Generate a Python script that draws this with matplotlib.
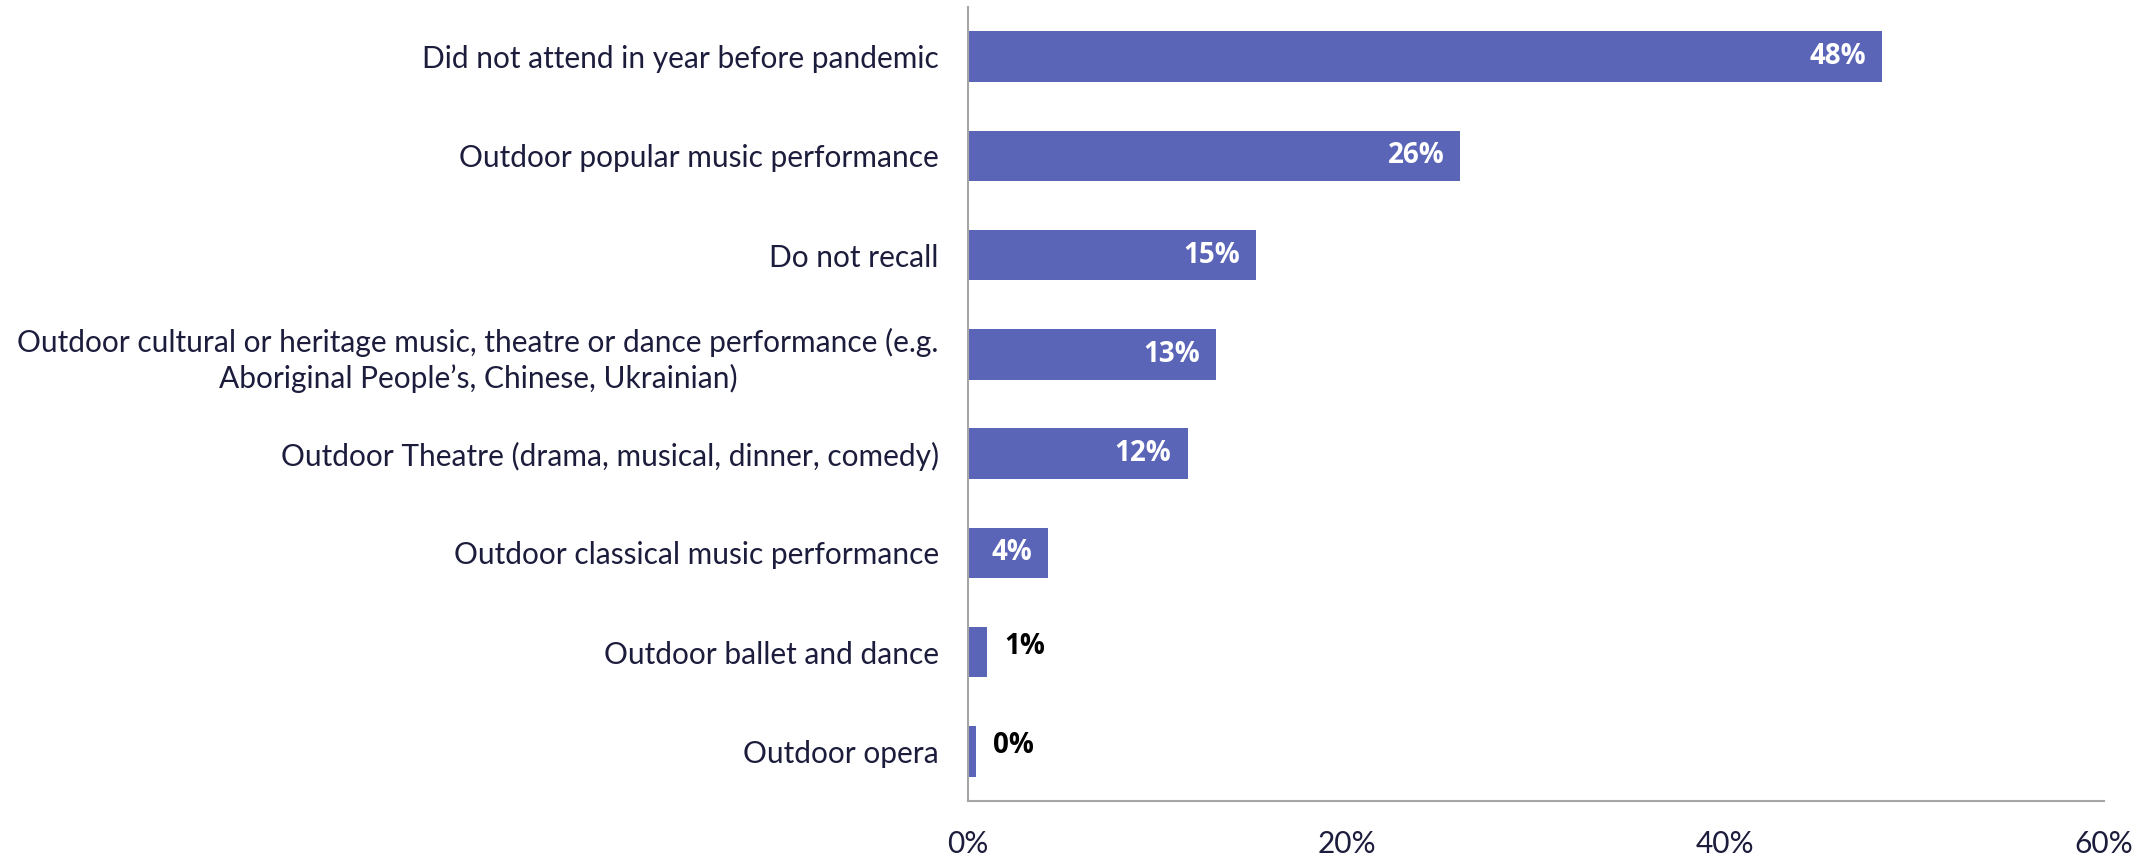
import numpy as np
import matplotlib.pyplot as plt

categories = [
    "Did not attend in year before pandemic",
    "Outdoor popular music performance",
    "Do not recall",
    "Outdoor cultural or heritage music, theatre or dance performance (e.g.\nAboriginal People\u2019s, Chinese, Ukrainian)",
    "Outdoor Theatre (drama, musical, dinner, comedy)",
    "Outdoor classical music performance",
    "Outdoor ballet and dance",
    "Outdoor opera",
]
values = [48.3, 26.0, 15.2, 13.1, 11.6, 4.25, 1.0, 0.42]
labels = ["48%", "26%", "15%", "13%", "12%", "4%", "1%", "0%"]
xticks = [0, 20, 40, 60]

plt.rcParams['font.family'] = ['Lato', 'DejaVu Sans']
text_col = "#1c1c3c"
bar_col = "#5b65b8"

fig = plt.figure(figsize=(21.44, 8.56), dpi=100)
ax = fig.add_axes([968/2144, 55/856, (2104-968)/2144, (801-7)/856])

y = np.arange(len(categories))
ax.barh(y, values, height=0.51, color=bar_col)
ax.set_ylim(len(categories) - 0.5, -0.5)
ax.set_xlim(0, 60)

for yi, v, lab in zip(y, values, labels):
    if v > 3:
        ax.text(v - 0.85, yi, lab, ha="right", va="center", color="white",
                fontsize=20, fontweight="bold", family="Open Sans")
    else:
        ax.text(v + 0.9, yi - 0.06, lab, ha="left", va="center", color="black",
                fontsize=20, fontweight="bold", family="Open Sans")

ax.set_yticks(y)
ax.set_yticklabels(categories, fontsize=21.5, color=text_col, ha="right",
                   multialignment="center", linespacing=1.3)
ax.tick_params(axis="y", length=0, pad=21)
ax.set_xticks(xticks)
ax.set_xticklabels([f"{t}%" for t in xticks], fontsize=21.5, color=text_col)
ax.tick_params(axis="x", length=0, pad=21)

for s in ["top", "right"]:
    ax.spines[s].set_visible(False)
for s in ["left", "bottom"]:
    ax.spines[s].set_color("#a6a6a6")
    ax.spines[s].set_linewidth(1.5)

fig.savefig("out.png", dpi=100)
